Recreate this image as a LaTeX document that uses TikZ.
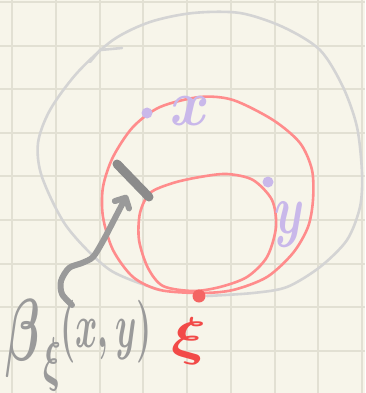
\documentclass[tikz,border=0pt]{standalone}
\usetikzlibrary{arrows.meta}
\definecolor{paper}{HTML}{F7F5EA}
\definecolor{gridline}{HTML}{E2E0D3}
\definecolor{pencil}{HTML}{D4D4D4}
\definecolor{salmon}{HTML}{FF8C8C}
\definecolor{lilac}{HTML}{C9B8EA}
\definecolor{ink}{HTML}{9A9A9A}
\definecolor{redink}{HTML}{F24A48}
\tikzset{
  sketch/.style={line width=2.6pt, line cap=round, line join=round},
  label/.style={inner sep=0pt, font=\boldmath},
}
\begin{document}
\begin{tikzpicture}[x=1pt,y=-1pt]
    \fill[paper] (0,0) rectangle (365,393);
    \useasboundingbox (0,0) rectangle (365,393);
    % squared paper
    \foreach \i in {0,...,8}
        \draw[gridline, line width=2pt] (12.3+43.7*\i,0) -- ++(0,393);
    \foreach \j in {0,...,8}
        \draw[gridline, line width=2pt] (0,2+43.6*\j) -- ++(365,0);
    % big grey ball
    \draw[sketch, pencil] plot[smooth] coordinates {(207,296) (253,293) (287,287) (320,267) (347,240) (360,207) (362,173) (357,127) (343,87) (320,50) (283,27) (240,13) (193,13) (150,22) (113,40) (77,73) (50,110) (38,143) (42,177) (67,227) (110,270) (160,290)};
    \draw[sketch, pencil] (90,62) -- (100,50) -- (122,48);
    % the two red balls
    \draw[sketch, salmon] plot[smooth cycle] coordinates {(200,97) (233,100) (273,120) (300,143) (312,170) (313,200) (308,227) (293,253) (267,277) (233,290) (200,293) (160,290) (133,277) (113,250) (103,217) (103,187) (113,157) (133,127) (160,107)};
    \draw[sketch, salmon] plot[smooth cycle] coordinates {(227,174) (253,180) (272,200) (276,227) (267,257) (247,277) (220,287) (193,291) (163,286) (148,268) (139,240) (140,213) (150,193) (173,183) (200,177)};
    \fill[redink!85] (199,296) circle (6.5);
    \node[label, redink, xscale=6.5, yscale=5.3] (xi) at (189,341) {$\xi$};
    % the points x and y
    \fill[lilac] (147,113) circle (5.5);
    \node[label, lilac, xscale=6, yscale=6.5] (labx) at (190,111) {$x$};
    \fill[lilac] (268,182) circle (5.5);
    \node[label, lilac, xscale=4.8, yscale=7.1] (laby) at (290,225) {$y$};
    % the bit of the sphere and its name
    \draw[ink!90!black, line width=9pt, line cap=round] (117,164) -- (149,197);
    \node[label, ink, xscale=5, yscale=8.8] (beta) at (23,338) {$\beta$};
    \node[label, ink, xscale=3.3, yscale=6] (xisub) at (52,364) {$\xi$};
    \node[label, ink, xscale=3.4, yscale=6.3] (args) at (106,332) {$(x,y)$};
    \coordinate (tail) at (72,305);
    \coordinate (tip) at (127,195);
    \draw[ink, line width=6pt, line cap=round, line join=round, -{Straight Barb[length=8pt, width=16pt, round]}]
        plot[smooth] coordinates {(tail) (62,294) (61,281) (69,268) (82,263) (93,257) (103,241) (114,220) (tip)};
\end{tikzpicture}
\end{document}
